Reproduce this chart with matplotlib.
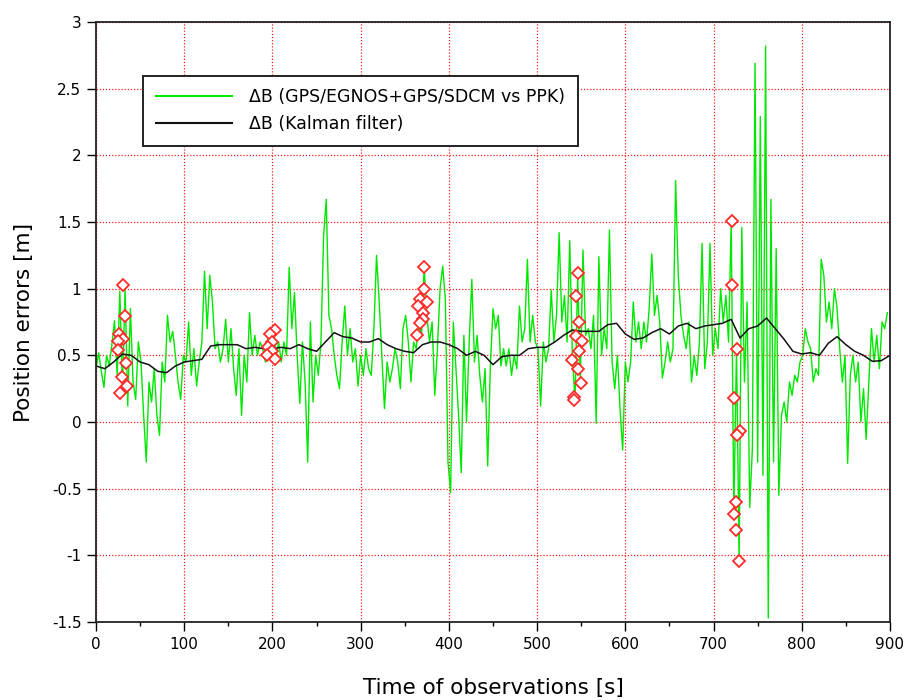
import matplotlib
matplotlib.use("Agg")
import matplotlib.pyplot as plt
import numpy as np

# Datos
# Tiempo de observaciones (una muestra cada 3 s)
t_obs = np.arange(0, 900, 3)

# Error dB GPS/EGNOS+GPS/SDCM vs PPK [m]
dB_gps = [
    0.40, 0.52, 0.38, 0.26, 0.50, 0.42, 0.58, 0.76, 0.35, 0.98,
    0.25, 1.00, 0.12, 0.85, 0.30, 0.17, 0.60, 0.45, 0.05, -0.30,
    0.30, 0.15, 0.40, 0.05, -0.10, 0.45, 0.30, 0.80, 0.60, 0.68,
    0.50, 0.30, 0.17, 0.50, 0.45, 0.75, 0.35, 0.55, 0.27, 0.45,
    0.60, 1.13, 0.70, 1.10, 0.90, 0.55, 0.60, 0.45, 0.55, 0.77,
    0.45, 0.70, 0.40, 0.20, 0.55, 0.05, 0.50, 0.30, 0.82, 0.50,
    0.65, 0.50, 0.60, 0.55, 0.45, 0.65, 0.50, 0.70, 0.48, 0.60,
    0.45, 0.60, 0.50, 1.16, 0.70, 0.97, 0.50, 0.14, 0.60, 0.30,
    -0.30, 0.75, 0.15, 0.50, 0.35, 0.60, 1.40, 1.67, 0.80, 0.70,
    0.50, 0.35, 0.25, 0.60, 0.87, 0.50, 0.70, 0.45, 0.55, 0.27,
    0.50, 0.35, 0.55, 0.40, 0.35, 0.70, 1.25, 0.90, 0.50, 0.10,
    0.45, 0.30, 0.40, 0.55, 0.45, 0.25, 0.70, 0.80, 0.60, 0.30,
    0.60, 0.55, 0.75, 0.65, 1.17, 0.80, 0.60, 0.75, 0.20, 0.55,
    1.00, 1.17, 0.92, -0.30, -0.53, 0.75, 0.40, 0.05, -0.38, 0.65,
    0.00, 0.60, 1.07, 0.45, 0.65, 0.35, 0.15, 0.40, -0.33, 0.42,
    0.85, 0.70, 0.80, 0.42, 0.55, 0.42, 0.55, 0.35, 0.50, 0.40,
    0.87, 0.60, 0.70, 1.22, 0.60, 0.80, 0.60, 0.55, 0.12, 0.60,
    0.45, 0.55, 0.99, 0.60, 0.80, 1.42, 0.75, 0.95, 0.60, 1.36,
    0.50, 0.15, 1.10, 0.30, 1.29, 0.65, 0.70, 0.55, 0.80, -0.01,
    1.24, 0.50, 0.70, 0.55, 1.44, 0.45, 0.25, 0.50, 0.10, -0.21,
    0.45, 0.30, 0.45, 0.90, 0.60, 0.75, 0.55, 0.75, 0.60, 0.85,
    1.26, 0.80, 0.95, 0.75, 0.33, 0.45, 0.60, 0.45, 0.55, 1.81,
    1.10, 0.80, 0.65, 0.55, 0.75, 0.30, 0.50, 0.35, 0.60, 1.34,
    0.40, 0.60, 1.34, 0.50, 0.70, 0.55, 1.00, 0.75, 0.95, 0.60,
    1.51, -0.70, 0.55, -1.04, 1.46, 0.30, 0.90, -0.64, -0.20, 2.69,
    -0.30, 2.29, -0.40, 2.82, -1.47, 1.67, -0.30, 1.30, -0.55, 0.05,
    0.15, 0.00, 0.30, 0.20, 0.35, 0.30, 0.45, 0.50, 0.70, 0.60,
    0.55, 0.30, 0.40, 0.35, 1.22, 1.10, 0.75, 0.90, 0.70, 1.00,
    0.85, 0.55, 0.30, 0.50, -0.31, 0.35, 0.50, 0.30, 0.45, 0.00,
    0.25, -0.13, 0.30, 0.70, 0.45, 0.65, 0.40, 0.75, 0.70, 0.82,
]

# Salida del filtro de Kalman (cada 10 s)
t_kf = np.arange(0, 901, 10)
dB_kf = [
    0.42, 0.40, 0.45, 0.51, 0.50, 0.45, 0.43, 0.38, 0.37, 0.42,
    0.45, 0.46, 0.47, 0.57, 0.58, 0.58, 0.58, 0.55, 0.56, 0.55,
    0.55, 0.56, 0.55, 0.58, 0.55, 0.53, 0.60, 0.67, 0.64, 0.63,
    0.60, 0.60, 0.625, 0.58, 0.55, 0.53, 0.52, 0.58, 0.60, 0.60,
    0.58, 0.55, 0.50, 0.53, 0.50, 0.43, 0.49, 0.50, 0.50, 0.55,
    0.56, 0.56, 0.60, 0.65, 0.69, 0.68, 0.68, 0.68, 0.73, 0.74,
    0.66, 0.62, 0.63, 0.67, 0.70, 0.66, 0.72, 0.74, 0.70, 0.72,
    0.73, 0.74, 0.77, 0.63, 0.70, 0.72, 0.78, 0.70, 0.62, 0.53,
    0.51, 0.52, 0.50, 0.59, 0.64, 0.58, 0.53, 0.50, 0.455, 0.46,
    0.50,
]

# Puntos marcados (rombos rojos)
mark_t = [31, 32.9, 26.5, 31, 25.3, 24.6, 33.6, 29.9, 35.5, 27.2,
          203, 197.2, 199, 195.4, 200, 194, 203,
          372.3, 372.3, 367.3, 375, 365.5, 371, 371, 367.3, 364.3,
          546, 544.2, 548, 544.2, 550.6, 548, 540, 546, 550, 542.3, 542.3,
          721, 721, 727, 723, 729.5, 727, 725, 723, 725, 729]
mark_y = [1.03, 0.795, 0.66, 0.62, 0.61, 0.54, 0.445, 0.34, 0.27, 0.22,
          0.69, 0.66, 0.60, 0.56, 0.53, 0.50, 0.475,
          1.16, 1.00, 0.92, 0.90, 0.87, 0.82, 0.77, 0.745, 0.65,
          1.115, 0.945, 0.75, 0.645, 0.61, 0.53, 0.465, 0.40, 0.29, 0.19, 0.165,
          1.51, 1.03, 0.55, 0.18, -0.07, -0.10, -0.60, -0.69, -0.81, -1.04]

# Etiquetas de los ejes
x_ticks = [0, 100, 200, 300, 400, 500, 600, 700, 800, 900]
x_labels = ['0', '100', '200', '300', '400', '500', '600', '700', '800', '900']
y_ticks = [-1.5, -1, -0.5, 0, 0.5, 1, 1.5, 2, 2.5, 3]
y_labels = ['-1.5', '-1', '-0.5', '0', '0.5', '1', '1.5', '2', '2.5', '3']

fig = plt.figure(figsize=(9.07, 7.0), dpi=100)
ax = fig.add_axes([96/907, 78/700, 794/907, 600/700])

ax.plot(t_obs, dB_gps, color='#00e800', lw=1.0,
        label='ΔB (GPS/EGNOS+GPS/SDCM vs PPK)')
ax.plot(t_kf, dB_kf, color='#111111', lw=1.1, label='ΔB (Kalman filter)')
ax.plot(mark_t, mark_y, linestyle='none', marker='D', ms=6.5, mew=1.3,
        mec='#ff2a2a', mfc='white', zorder=3)

ax.set_xlim(0, 900)
ax.set_ylim(-1.5, 3)
ax.set_xticks(x_ticks)
ax.set_xticklabels(x_labels)
ax.set_xticks(np.arange(50, 900, 100), minor=True)
ax.set_yticks(y_ticks)
ax.set_yticklabels(y_labels)
ax.tick_params(which='major', direction='out', length=6.5, width=1,
               labelsize=11, pad=4)
ax.tick_params(which='minor', direction='out', length=3, width=1)

ax.grid(True, which='major', color='#ff2020', linestyle=(0, (1, 1.5)), lw=0.9)
for s in ax.spines.values():
    s.set_linewidth(1.3)
    s.set_color('#222222')

ax.set_xlabel('Time of observations [s]', fontsize=15.5)
ax.set_ylabel('Position errors [m]', fontsize=15.5)
ax.xaxis.set_label_coords(0.5, -0.094)
ax.yaxis.set_label_coords(-0.078, 0.5)

leg = ax.legend(loc='upper left', bbox_to_anchor=(0.0592, 0.91),
                borderaxespad=0, fontsize=12.5, handlelength=4.4,
                handletextpad=1.0, labelspacing=0.5, borderpad=0.72,
                fancybox=False, framealpha=1)
leg.get_frame().set_edgecolor('#222222')
leg.get_frame().set_linewidth(1.4)
for ln in leg.get_lines():
    ln.set_linewidth(1.5)

plt.savefig("out.png", dpi=100)
